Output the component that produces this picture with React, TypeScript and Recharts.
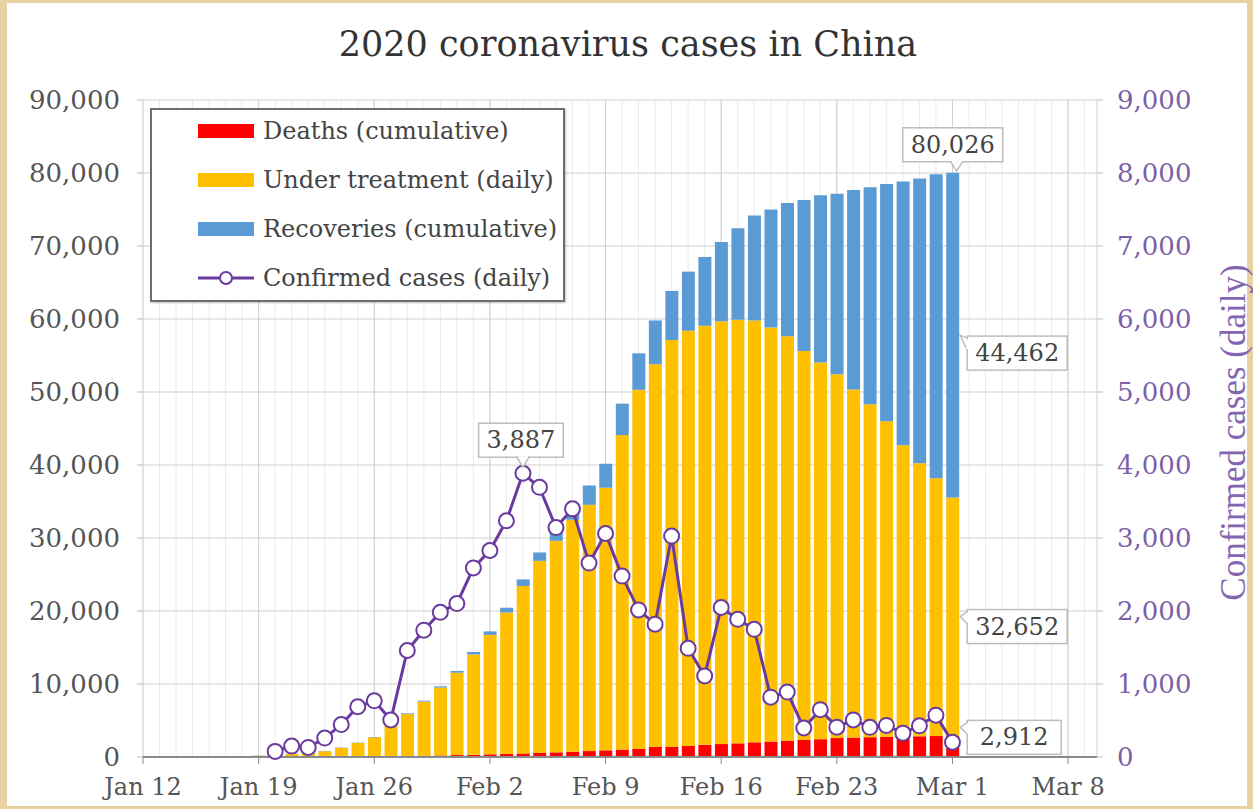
import React from 'react';
import { ComposedChart, Bar, Line, XAxis, YAxis, CartesianGrid, Legend, LabelList } from 'recharts';

// ---------- data ----------
const dayTickValues = [0, 7, 14, 21, 28, 35, 42, 49, 56];
const dayTickLabels = ['Jan 12', 'Jan 19', 'Jan 26', 'Feb 2', 'Feb 9', 'Feb 16', 'Feb 23', 'Mar 1', 'Mar 8'];
const dayAxisMax = 57.75;
const casesTicks = [0, 10000, 20000, 30000, 40000, 50000, 60000, 70000, 80000, 90000];
const dailyTicks = [0, 1000, 2000, 3000, 4000, 5000, 6000, 7000, 8000, 9000];

// one value per day, Jan 12 .. Mar 1
const deaths = [
  1, 1, 1, 2, 2, 2, 3, 3, 6, 9, 17, 25, 41, 56, 80, 106, 132, 170, 213, 259,
  304, 361, 425, 490, 563, 636, 722, 811, 908, 1016, 1113, 1367, 1380, 1523, 1665, 1770, 1868, 2004, 2118, 2236,
  2345, 2442, 2592, 2663, 2715, 2744, 2788, 2835, 2870, 2912,
];
const underTreatment = [
  38, 34, 33, 27, 31, 48, 101, 170, 260, 403, 526, 771, 1208, 1870, 2613, 4349, 5739, 7417, 9308, 11289,
  13748, 16369, 19381, 22942, 26302, 28985, 31774, 33738, 35982, 43084, 49187, 52437, 55748, 56873, 57416, 57934, 58016, 57805, 56732, 55394,
  53284, 51606, 49824, 47672, 45604, 43258, 39919, 37414, 35329, 32652,
];
const recoveries = [
  2, 6, 7, 12, 12, 12, 17, 25, 25, 28, 28, 34, 38, 49, 51, 60, 103, 124, 171, 243,
  328, 475, 632, 892, 1153, 1540, 2050, 2649, 3281, 4300, 5000, 6000, 6723, 8096, 9419, 10844, 12552, 14376, 16155, 18264,
  20659, 22888, 24734, 27323, 29745, 32495, 36117, 39002, 41625, 44462,
];
// daily confirmed cases, Jan 20 .. Mar 1
const confirmedDailyFirstDay = 8;
const confirmedDaily = [
  77, 149, 131, 259, 444, 688, 769, 507, 1459, 1737, 1982, 2102,
  2590, 2829, 3235, 3887, 3694, 3143, 3399, 2656, 3062, 2478, 2015, 1820, 3027, 1489, 1110, 2048, 1886, 1749,
  820, 889, 397, 648, 409, 508, 406, 433, 327, 427, 573, 202,
];

const data = deaths.map((d, i) => ({
  day: i,
  deaths: d,
  treatment: underTreatment[i],
  recoveries: recoveries[i],
  confirmed: i >= confirmedDailyFirstDay ? confirmedDaily[i - confirmedDailyFirstDay] : null,
}));

// ---------- styles ----------
const FONT = "'DejaVu Serif', serif";
const C_DEATHS = '#ff0000';
const C_TREAT = '#ffc000';
const C_REC = '#5b9bd5';
const C_LINE = '#6a3a9e';
const C_RIGHT = '#7d5fa8';

const lastIndex = deaths.length - 1;
const peakValue = Math.max(...confirmedDaily);
const peakIndex = confirmedDailyFirstDay + confirmedDaily.indexOf(peakValue);
const fmt = (v: number) => v.toLocaleString('en-US');
const textW = (s: string, fs: number) =>
  s.split('').reduce((a, c) => a + (c === ',' ? 0.318 : 0.636), 0) * fs;

function Callout({ bx, by, bw, bh, tx, ty, side, text }: any) {
  let tail: number[][] = [];
  let cover: number[][] = [];
  if (side === 'down') {
    const base = Math.min(Math.max(tx, bx + 10), bx + bw - 10);
    tail = [[base - 6, by + bh], [tx, ty], [base + 6, by + bh]];
    cover = [[base - 5, by + bh], [base + 5, by + bh]];
  } else {
    const base = Math.min(Math.max(ty, by + 8), by + bh - 8);
    tail = [[bx, base - 6], [tx, ty], [bx, base + 6]];
    cover = [[bx, base - 5], [bx, base + 5]];
  }
  return (
    <g>
      <rect x={bx} y={by} width={bw} height={bh} fill="#fff" stroke="#bdbdbd" strokeWidth={1.5} />
      <polygon points={tail.map((p) => p.join(',')).join(' ')} fill="#fff" stroke="#bdbdbd" strokeWidth={1.5} />
      <line x1={cover[0][0]} y1={cover[0][1]} x2={cover[1][0]} y2={cover[1][1]} stroke="#fff" strokeWidth={2} />
      <text x={bx + bw / 2} y={by + bh / 2} textAnchor="middle" dominantBaseline="central"
        fontFamily={FONT} fontSize={24} fill="#444">{text}</text>
    </g>
  );
}

const rectOf = (p: any) => {
  const vb = p.viewBox || {};
  const x = Number(p.x ?? vb.x);
  const y = Number(p.y ?? vb.y);
  const w = Number(p.width ?? vb.width ?? 0);
  const h = Number(p.height ?? vb.height ?? 0);
  return { x, y: Math.min(y, y + h), w, h: Math.abs(h) };
};

const sideLabel = (values: number[], shift: number) => (p: any) => {
  if (p.index !== lastIndex) return null;
  const r = rectOf(p);
  if (!isFinite(r.x) || !isFinite(r.y)) return null;
  const text = fmt(values[lastIndex]);
  const bw = Math.max(textW(text, 24) + 16, 94);
  const bh = 34;
  const cy = r.y + r.h / 2 + shift;
  return <Callout bx={r.x + r.w + 8} by={cy - bh / 2} bw={bw} bh={bh}
    tx={r.x + r.w + 1} ty={Math.min(cy - 10, r.y + r.h / 2)} side="left" text={text} />;
};

const totalLabel = (p: any) => {
  if (p.index !== lastIndex) return null;
  const r = rectOf(p);
  if (!isFinite(r.x) || !isFinite(r.y)) return null;
  const text = fmt(deaths[lastIndex] + underTreatment[lastIndex] + recoveries[lastIndex]);
  const bw = textW(text, 24) + 16;
  const bh = 34;
  const cx = r.x + r.w / 2;
  return <Callout bx={cx - bw / 2} by={r.y - 28 - bh / 2} bw={bw} bh={bh}
    tx={cx + 4} ty={r.y - 2} side="down" text={text} />;
};

const peakLabel = (p: any) => {
  if (p.index !== peakIndex) return null;
  const vb = p.viewBox || {};
  const x = Number(p.x ?? vb.x);
  const y = Number(p.y ?? vb.y);
  if (!isFinite(x) || !isFinite(y)) return null;
  const text = fmt(peakValue);
  const bw = textW(text, 24) + 16;
  const bh = 34;
  return <Callout bx={x - 2 - bw / 2} by={y - 33 - bh / 2} bw={bw} bh={bh}
    tx={x} ty={y - 6} side="down" text={text} />;
};

const legendItems = [
  { label: 'Deaths (cumulative)', color: C_DEATHS, kind: 'bar' },
  { label: 'Under treatment (daily)', color: C_TREAT, kind: 'bar' },
  { label: 'Recoveries (cumulative)', color: C_REC, kind: 'bar' },
  { label: 'Confirmed cases (daily)', color: C_LINE, kind: 'line' },
];

function LegendBox() {
  return (
    <div style={{ width: 415, height: 194, boxSizing: 'border-box', border: '2px solid #6e6e6e',
      background: '#fff', position: 'relative', boxShadow: '1px 1px 2px rgba(0,0,0,0.25)' }}>
      {legendItems.map((it, i) => (
        <div key={it.label} style={{ position: 'absolute', left: 45, top: 21 + i * 49 - 15, height: 30,
          display: 'flex', alignItems: 'center', whiteSpace: 'nowrap' }}>
          <svg width={58} height={20} style={{ display: 'block' }}>
            {it.kind === 'bar' ? (
              <rect x={1} y={3} width={56} height={14} fill={it.color} />
            ) : (
              <g>
                <line x1={1} y1={10} x2={57} y2={10} stroke={it.color} strokeWidth={3} />
                <circle cx={29} cy={10} r={6} fill="#fff" stroke={it.color} strokeWidth={2} />
              </g>
            )}
          </svg>
          <span style={{ marginLeft: 8, fontSize: 24, color: '#444', fontFamily: FONT, lineHeight: '30px' }}>
            {it.label}
          </span>
        </div>
      ))}
    </div>
  );
}

const gridX = (days: number[]) => (props: any) => {
  const s = props?.xAxis?.scale;
  const o = props.offset;
  return days.map((d) => (typeof s === 'function' ? s(d) : o.left + (d / dayAxisMax) * o.width));
};
const minorDays = Array.from({ length: 58 }, (_, i) => i);
const majorDays = [...dayTickValues, dayAxisMax];

const RightLabel = (p: any) => {
  const vb = p.viewBox || {};
  const x = vb.x + vb.width + 16;
  const y = vb.y + vb.height / 2 + 4;
  return (
    <text x={x} y={y} transform={`rotate(-90 ${x} ${y})`} textAnchor="middle" dominantBaseline="central"
      fontFamily="'Liberation Serif', serif" fontSize={35} fill="#8466b0">
      Confirmed cases (daily)
    </text>
  );
};

export default function App() {
  return (
    <div style={{ position: 'absolute', left: 0, top: 0, width: 1253, height: 809, background: '#e9d2a2', overflow: 'hidden' }}>
      <div style={{ position: 'absolute', left: 7, top: 3, width: 1240, height: 803, background: '#fff' }} />
      <div style={{ position: 'absolute', left: 0, top: 24, width: 1256, textAlign: 'center', fontFamily: FONT,
        fontSize: 35, lineHeight: '40px', color: '#333' }}>
        2020 coronavirus cases in China
      </div>
      <div style={{ position: 'absolute', left: 0, top: 0 }}>
        <ComposedChart width={1253} height={809} data={data}
          margin={{ top: 100, right: 36, bottom: 12, left: 23 }}>
          <CartesianGrid horizontal={false} stroke="#ebebeb" verticalCoordinatesGenerator={gridX(minorDays)} />
          <CartesianGrid stroke="#cfcfcf" verticalCoordinatesGenerator={gridX(majorDays)} />
          <XAxis dataKey="day" type="number" domain={[0, dayAxisMax]} ticks={dayTickValues} interval={0}
            allowDataOverflow tickFormatter={(v: number) => dayTickLabels[dayTickValues.indexOf(v)] ?? ''}
            axisLine={{ stroke: '#8a8a8a', strokeWidth: 2 }} tickLine={{ stroke: '#8a8a8a' }} tickSize={7}
            tickMargin={14} height={40} tick={{ fill: '#555', fontSize: 24, fontFamily: FONT }} />
          <YAxis domain={[0, 90000]} ticks={casesTicks} interval={0} width={120} axisLine={false}
            tickLine={{ stroke: '#bbb' }} tickSize={6} tickMargin={17} tickFormatter={fmt}
            tick={{ fill: '#555', fontSize: 26, fontFamily: FONT }} />
          <YAxis yAxisId="right" orientation="right" domain={[0, 9000]} ticks={dailyTicks} interval={0} width={120}
            axisLine={false} tickLine={{ stroke: '#bbb' }} tickSize={6} tickMargin={14} tickFormatter={fmt}
            tick={{ fill: C_RIGHT, fontSize: 26, fontFamily: FONT }} label={{ content: RightLabel }} />
          <Legend layout="horizontal" verticalAlign="middle" align="center"
            wrapperStyle={{ left: 150, top: 108, width: 415, height: 194 }} content={() => <LegendBox />} />
          <Bar dataKey="deaths" stackId="s" fill={C_DEATHS} barSize={13} isAnimationActive={false}>
            <LabelList content={sideLabel(deaths, -9)} />
          </Bar>
          <Bar dataKey="treatment" stackId="s" fill={C_TREAT} barSize={13} isAnimationActive={false}>
            <LabelList content={sideLabel(underTreatment, 10)} />
          </Bar>
          <Bar dataKey="recoveries" stackId="s" fill={C_REC} barSize={13} isAnimationActive={false}>
            <LabelList content={sideLabel(recoveries, 18)} />
            <LabelList content={totalLabel} />
          </Bar>
          <Line yAxisId="right" dataKey="confirmed" type="linear" stroke={C_LINE} strokeWidth={3}
            dot={{ r: 7.5, fill: '#fff', stroke: C_LINE, strokeWidth: 2 }} activeDot={false}
            isAnimationActive={false} connectNulls={false}>
            <LabelList content={peakLabel} />
          </Line>
        </ComposedChart>
      </div>
    </div>
  );
}
